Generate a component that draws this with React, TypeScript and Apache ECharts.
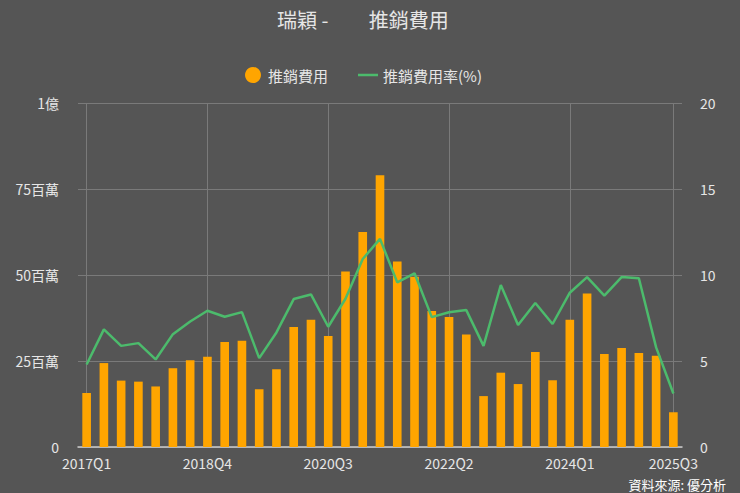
import React, { useEffect, useRef } from "react";
import * as echarts from "echarts";

const categories: string[] = [];
for (let y = 2017; y <= 2025; y++) {
  for (let q = 1; q <= 4; q++) {
    if (y === 2025 && q > 3) break;
    categories.push(`${y}Q${q}`);
  }
}

const expenseMillions = [
  15.7, 24.4, 19.3, 19.0, 17.6, 22.9, 25.2, 26.2, 30.5, 30.9,
  16.8, 22.6, 34.9, 37.0, 32.3, 51.0, 62.5, 79.0, 53.9, 49.5,
  39.5, 37.8, 32.7, 14.8, 21.6, 18.3, 27.6, 19.4, 37.0, 44.6,
  27.0, 28.8, 27.3, 26.5, 10.1,
];

const expenseRate = [
  4.8, 6.84, 5.88, 6.04, 5.09, 6.56, 7.3, 7.92, 7.57, 7.84,
  5.17, 6.66, 8.6, 8.87, 6.99, 8.62, 10.93, 12.1, 9.57, 10.1,
  7.55, 7.83, 7.96, 5.88, 9.42, 7.09, 8.37, 7.15, 8.97, 9.88,
  8.8, 9.88, 9.81, 5.79, 3.11,
];

const labelIndices = [0, 7, 14, 21, 28, 34];
const leftTicks = ["0", "25百萬", "50百萬", "75百萬", "1億"];

export default function App() {
  const ref = useRef<HTMLDivElement>(null);
  useEffect(() => {
    if (!ref.current) return;
    const chart = echarts.init(ref.current, undefined, { renderer: "svg" });
    const font = "'Noto Sans CJK TC', 'Noto Sans', sans-serif";
    chart.setOption({
      animation: false,
      backgroundColor: "#555555",
      textStyle: { fontFamily: font },
      title: {
        text: "瑞穎 -         推銷費用",
        left: 272,
        top: 4,
        textStyle: { color: "#e6e6e6", fontSize: 20, fontWeight: "normal", fontFamily: font },
      },
      legend: {
        top: 62,
        left: 240,
        itemGap: 30,
        itemWidth: 20,
        itemHeight: 16,
        textStyle: { color: "#e6e6e6", fontSize: 15, fontFamily: font },
        data: [
          { name: "推銷費用", icon: "circle" },
          { name: "推銷費用率(%)", icon: "path://M0,0h20v2.5h-20z" },
        ],
      },
      graphic: [
        {
          type: "text",
          right: 14,
          bottom: 2,
          style: {
            text: "資料來源: 優分析",
            fill: "#ffffff",
            fontSize: 13,
            fontFamily: font,
          },
        },
      ],
      grid: { left: 78, right: 58, top: 103, bottom: 46 },
      xAxis: {
        type: "category",
        data: categories,
        boundaryGap: true,
        axisLine: { lineStyle: { color: "#cccccc", width: 1.5 } },
        axisTick: { show: false },
        splitLine: { show: false },
        axisLabel: {
          color: "#e6e6e6",
          fontSize: 14,
          margin: 9,
          interval: (i: number) => labelIndices.includes(i),
        },
      },
      yAxis: [
        {
          type: "value",
          min: 0,
          max: 100,
          interval: 25,
          axisLine: { show: false },
          axisTick: { show: false },
          splitLine: { lineStyle: { color: "#7a7a7a", width: 1 } },
          axisLabel: {
            color: "#e6e6e6",
            fontSize: 14,
            margin: 19,
            formatter: (v: number) => leftTicks[Math.round(v / 25)],
          },
        },
        {
          type: "value",
          min: 0,
          max: 20,
          interval: 5,
          position: "right",
          axisLine: { show: false },
          axisTick: { show: false },
          splitLine: { show: false },
          axisLabel: { color: "#e6e6e6", fontSize: 14, margin: 18 },
        },
      ],
      series: [
        {
          name: "grid-x",
          type: "line",
          data: categories.map(() => null),
          symbol: "none",
          silent: true,
          z: 0,
          markLine: {
            silent: true,
            z: 0,
            symbol: "none",
            label: { show: false },
            lineStyle: { color: "#7a7a7a", type: "solid", width: 1 },
            data: labelIndices.map((i) => ({ xAxis: categories[i] })),
          },
        },
        {
          name: "推銷費用",
          type: "bar",
          data: expenseMillions,
          barWidth: "50%",
          itemStyle: { color: "#FFA500" },
          z: 2,
        },
        {
          name: "推銷費用率(%)",
          type: "line",
          yAxisIndex: 1,
          data: expenseRate,
          symbol: "none",
          lineStyle: { color: "#4CBB6C", width: 2.5 },
          itemStyle: { color: "#4CBB6C" },
          z: 3,
        },
      ],
    });
    return () => chart.dispose();
  }, []);
  return (
    <div
      ref={ref}
      style={{ width: 740, height: 493, position: "fixed", left: 0, top: 0 }}
    />
  );
}
